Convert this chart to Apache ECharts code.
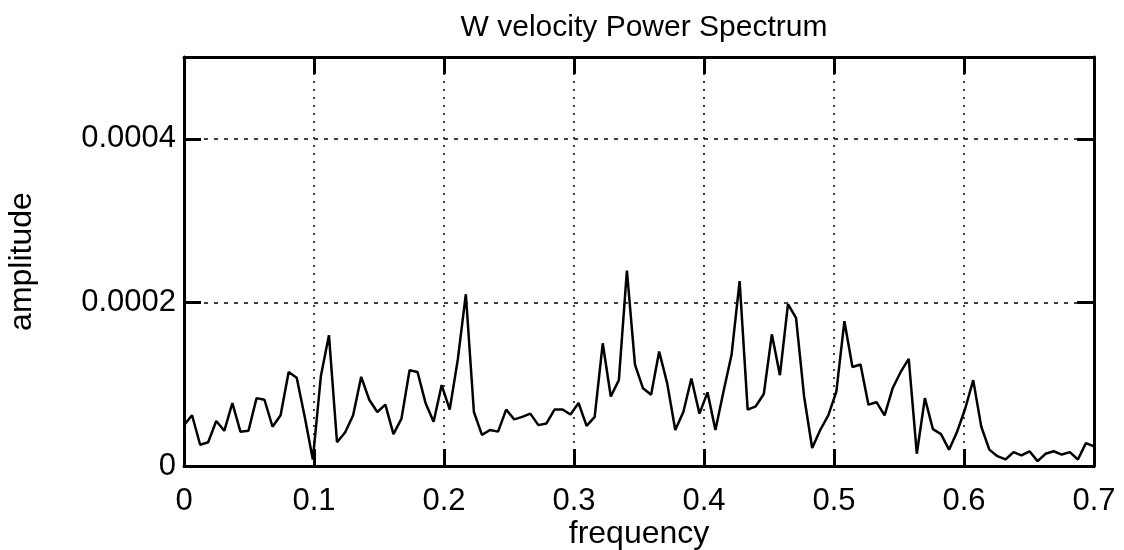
<!DOCTYPE html>
<html>
<head>
<meta charset="utf-8">
<title>W velocity Power Spectrum</title>
<script src="https://cdn.jsdelivr.net/npm/echarts@6/dist/echarts.min.js"></script>
<style>
  html, body { margin: 0; padding: 0; background: #fff; }
  #chart { width: 1124px; height: 550px; }
</style>
</head>
<body>
<div id="chart"></div>
<script>
// frequency of each spectral line
const frequency = [
  0, 0.0062, 0.0124, 0.0186, 0.0248, 0.0310, 0.0372, 0.0434, 0.0496, 0.0558,
  0.0619, 0.0681, 0.0743, 0.0805, 0.0867, 0.0929, 0.0991, 0.1053, 0.1115, 0.1177,
  0.1239, 0.1301, 0.1363, 0.1425, 0.1487, 0.1549, 0.1611, 0.1673, 0.1735, 0.1796,
  0.1858, 0.1920, 0.1982, 0.2044, 0.2106, 0.2168, 0.2230, 0.2292, 0.2354, 0.2416,
  0.2478, 0.2540, 0.2602, 0.2664, 0.2726, 0.2788, 0.2850, 0.2912, 0.2973, 0.3035,
  0.3097, 0.3159, 0.3221, 0.3283, 0.3345, 0.3407, 0.3469, 0.3531, 0.3593, 0.3655,
  0.3717, 0.3779, 0.3841, 0.3903, 0.3965, 0.4027, 0.4088, 0.4150, 0.4212, 0.4274,
  0.4336, 0.4398, 0.4460, 0.4522, 0.4584, 0.4646, 0.4708, 0.4770, 0.4832, 0.4894,
  0.4956, 0.5018, 0.5080, 0.5142, 0.5204, 0.5265, 0.5327, 0.5389, 0.5451, 0.5513,
  0.5575, 0.5637, 0.5699, 0.5761, 0.5823, 0.5885, 0.5947, 0.6009, 0.6071, 0.6133,
  0.6195, 0.6257, 0.6319, 0.6381, 0.6442, 0.6504, 0.6566, 0.6628, 0.6690, 0.6752,
  0.6814, 0.6876, 0.6938, 0.7000
]

// amplitude
const amplitude = [
  5.0e-5, 6.2e-5, 2.6e-5, 2.9e-5, 5.5e-5, 4.3e-5, 7.7e-5, 4.2e-5, 4.3e-5, 8.3e-5,
  8.1e-5, 4.8e-5, 6.2e-5, 11.5e-5, 10.8e-5, 6.0e-5, 0.8e-5, 11.0e-5, 16.0e-5, 2.9e-5,
  4.1e-5, 6.2e-5, 10.9e-5, 8.1e-5, 6.6e-5, 7.5e-5, 3.9e-5, 5.8e-5, 11.7e-5, 11.5e-5,
  7.7e-5, 5.4e-5, 9.9e-5, 6.9e-5, 13.0e-5, 21.0e-5, 6.6e-5, 3.8e-5, 4.4e-5, 4.2e-5,
  6.9e-5, 5.7e-5, 6.0e-5, 6.4e-5, 5.0e-5, 5.2e-5, 6.9e-5, 6.9e-5, 6.3e-5, 7.7e-5,
  4.9e-5, 6.0e-5, 15.0e-5, 8.5e-5, 10.5e-5, 23.9e-5, 12.4e-5, 9.5e-5, 8.7e-5, 14.0e-5,
  10.1e-5, 4.4e-5, 6.6e-5, 10.7e-5, 6.4e-5, 9.0e-5, 4.4e-5, 9.1e-5, 13.6e-5, 22.6e-5,
  6.9e-5, 7.3e-5, 8.8e-5, 16.1e-5, 11.1e-5, 19.8e-5, 18.1e-5, 8.5e-5, 2.2e-5, 4.4e-5,
  6.2e-5, 9.1e-5, 17.7e-5, 12.1e-5, 12.4e-5, 7.5e-5, 7.8e-5, 6.2e-5, 9.5e-5, 11.5e-5,
  13.1e-5, 1.5e-5, 8.3e-5, 4.5e-5, 3.9e-5, 2.0e-5, 4.2e-5, 7.0e-5, 10.5e-5, 4.8e-5,
  2.0e-5, 1.2e-5, 0.8e-5, 1.7e-5, 1.3e-5, 1.8e-5, 0.6e-5, 1.5e-5, 1.8e-5, 1.4e-5,
  1.7e-5, 0.8e-5, 2.8e-5, 2.4e-5
]

const xTicks = [0, 0.1, 0.2, 0.3, 0.4, 0.5, 0.6, 0.7]
const yTicks = [0, 0.0002, 0.0004]

const font = "'Liberation Sans', Arial, Helvetica, sans-serif"
const ink = '#000'

const chart = echarts.init(document.getElementById('chart'), null, { renderer: 'canvas' })

const frame = {
  show: true,
  onZero: false,
  lineStyle: { color: ink, width: 3 },
}
const ticks = {
  show: true,
  inside: true,
  length: 17,
  lineStyle: { color: ink, width: 3 },
}

chart.setOption({
  animation: false,
  backgroundColor: '#fff',
  title: {
    text: 'W velocity Power Spectrum',
    left: 639,
    textAlign: 'center',
    top: 8,
    textStyle: { fontFamily: font, fontSize: 30, fontWeight: 'normal', color: ink },
  },
  // fixed plot box, no auto shrinking for labels
  grid: { left: 184, right: 30, top: 57, bottom: 84, containLabel: false, outerBoundsMode: 'none' },
  xAxis: [{
    type: 'value',
    position: 'bottom',
    min: xTicks[0],
    max: xTicks[xTicks.length - 1],
    interval: 0.1,
    name: 'frequency',
    nameLocation: 'middle',
    nameGap: 52,
    nameMoveOverlap: false,
    nameTextStyle: { fontFamily: font, fontSize: 32, color: ink },
    axisLine: frame,
    axisTick: ticks,
    axisLabel: {
      margin: 20,
      fontFamily: font,
      fontSize: 31,
      color: ink,
      formatter: v => (Math.abs(v) < 1e-9 ? '0' : v.toFixed(1)),
    },
    splitLine: { show: true, lineStyle: { color: ink, width: 1.5, type: [2, 6] } },
  }, {
    type: 'value',
    position: 'top',
    min: xTicks[0],
    max: xTicks[xTicks.length - 1],
    interval: 0.1,
    axisLine: frame,
    axisTick: ticks,
    axisLabel: { show: false },
    splitLine: { show: false },
  }],
  yAxis: [{
    type: 'value',
    position: 'left',
    min: 0,
    max: 0.0005,
    interval: 0.0002,
    name: 'amplitude',
    nameLocation: 'middle',
    nameGap: 146,
    nameMoveOverlap: false,
    nameTextStyle: { fontFamily: font, fontSize: 32, color: ink },
    axisLine: frame,
    axisTick: ticks,
    axisLabel: {
      margin: 8,
      fontFamily: font,
      fontSize: 31,
      color: ink,
      formatter: v => {
        if (Math.abs(v) < 1e-12) return '0'
        const hit = yTicks.find(t => Math.abs(t - v) < 1e-9)
        return hit ? hit.toFixed(4) : ''
      },
    },
    splitLine: { show: true, lineStyle: { color: ink, width: 1.5, type: [4, 6] } },
  }, {
    type: 'value',
    position: 'right',
    min: 0,
    max: 0.0005,
    interval: 0.0002,
    axisLine: frame,
    axisTick: ticks,
    axisLabel: { show: false },
    splitLine: { show: false },
  }],
  series: [{
    type: 'line',
    xAxisIndex: 0,
    yAxisIndex: 0,
    data: frequency.map((f, i) => [f, amplitude[i]]),
    showSymbol: false,
    symbol: 'none',
    lineStyle: { color: ink, width: 2.5 },
  }],
})
</script>
</body>
</html>
